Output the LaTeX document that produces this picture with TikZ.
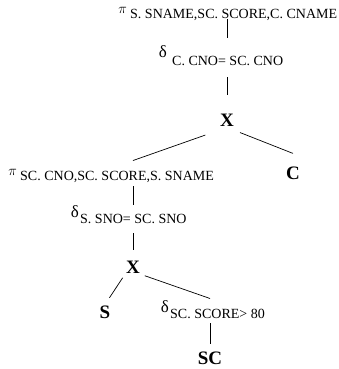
\documentclass[tikz,border=0pt]{standalone}
\usepackage{fontspec}
\setmainfont{Liberation Serif}
\usetikzlibrary{calc}
\tikzset{
  cond/.style={inner sep=0pt,anchor=base west,font=\fontsize{14}{14}\selectfont},
  opsym/.style={inner sep=0pt,anchor=base east,font=\fontsize{14}{14}\selectfont},
  selsym/.style={opsym,font=\fontsize{17}{17}\selectfont},
  rel/.style={inner sep=1pt,font=\fontsize{19}{19}\selectfont\bfseries},
  edge/.style={line width=0.7pt}
}
\begin{document}
\begin{tikzpicture}[x=1pt,y=-1pt]% ------ arbre de requete ----------------
    \useasboundingbox (0,0) rectangle (338,369);
    % operateurs
    \node [cond] (pione) at (130,19) {S. SNAME,SC. SCORE,C. CNAME};
    \node [opsym] (pionesym) at (127,14) {$\pi$};
    \node [cond] (selone) at (172,65) {C. CNO= SC. CNO};
    \node [selsym] (selonesym) at (167,58) {δ};
    \node [cond] (pitwo) at (20,180) {SC. CNO,SC. SCORE,S. SNAME};
    \node [opsym] (pitwosym) at (17,175) {$\pi$};
    \node [cond] (seltwo) at (80,223) {S. SNO= SC. SNO};
    \node [selsym] (seltwosym) at (79,217) {δ};
    \node [cond] (selthree) at (170,318) {SC. SCORE> 80};
    \node [selsym] (selthreesym) at (169,312) {δ};
    % relations et produits
    \node [rel] (xone) at (227,120) {X};
    \node [rel] (c) at (293,173) {C};
    \node [rel] (xtwo) at (133,267) {X};
    \node [rel] (s) at (105,312) {S};
    \node [rel] (sc) at (210,358) {SC};
    % aretes
    \draw [edge,shorten <=-2pt,shorten >=18pt] (pione.south -| xone) -- (selone.north -| xone);
    \draw [edge,shorten <=12pt,shorten >=18pt] (selone.south -| xone) -- (xone.north);
    \draw [edge,shorten <=23pt] (xone.south) -- ($(pitwo.north -| xtwo)+(0,-10)$);
    \draw [edge,shorten <=14pt] (xone.south) -- ($(c.north)+(0,-12)$);
    \draw [edge,shorten <=4pt,shorten >=9pt] (pitwo.south -| xtwo) -- (seltwo.north -| xtwo);
    \draw [edge,shorten <=10pt,shorten >=10pt] (seltwo.south -| xtwo) -- (xtwo.north);
    \draw [edge,shorten <=4pt,shorten >=8pt] (xtwo.south west) -- (s.north);
    \draw [edge,shorten <=4pt] (xtwo.south east) -- ($(selthree.north -| sc)+(0,-10)$);
    \draw [edge,shorten <=5pt,shorten >=6pt] (selthree.south -| sc) -- (sc.north);
\end{tikzpicture}
\end{document}
